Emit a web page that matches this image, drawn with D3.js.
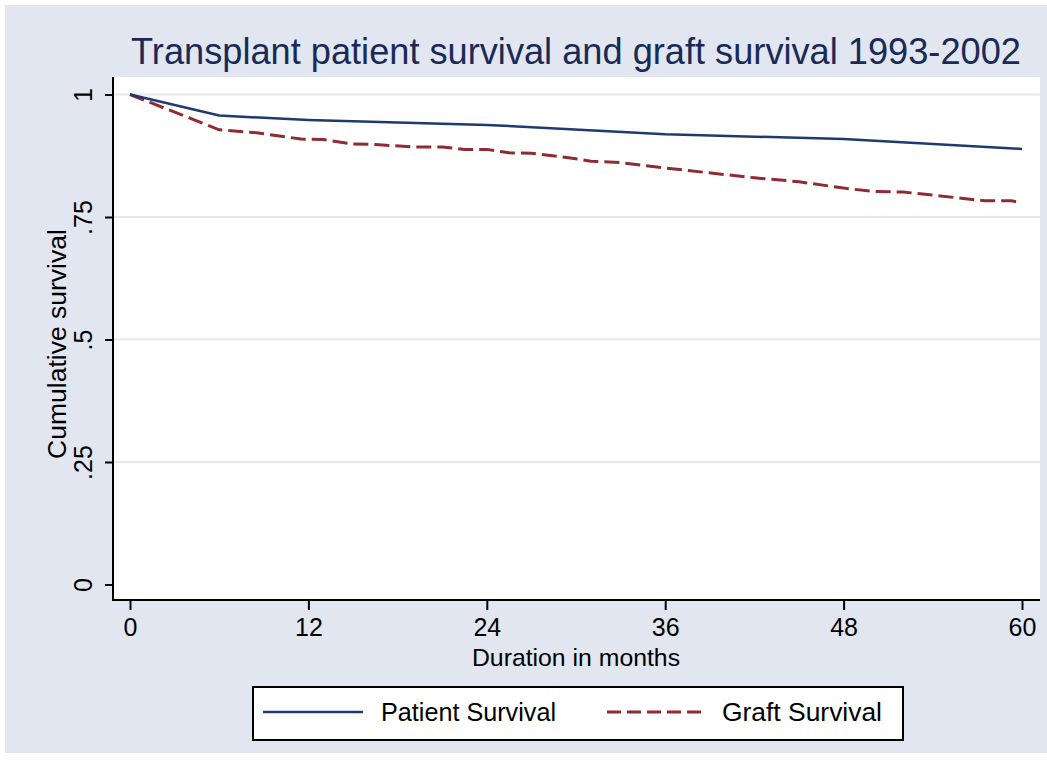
<!DOCTYPE html>
<html>
<head>
<meta charset="utf-8">
<script src="https://cdn.jsdelivr.net/npm/d3@7"></script>
<style>
  body { margin: 0; background: #ffffff; }
  svg { display: block; }
  text { font-family: "Liberation Sans", Arial, sans-serif; }
</style>
</head>
<body>
<svg id="chart" width="1047" height="765"></svg>
<script>
// ---- data ----
const titleText = "Transplant patient survival and graft survival 1993-2002";
const xTicks = [0, 12, 24, 36, 48, 60];
const yTicks = [0, 0.25, 0.5, 0.75, 1];
const yTickLabels = ["0", ".25", ".5", ".75", "1"];
const patientMonths = [0, 6, 12, 24, 36, 48, 60];
const patientSurvival = [1.0, 0.957, 0.948, 0.938, 0.919, 0.909, 0.889];
const graftMonths = [0, 6, 8.5, 11.5, 13, 15, 16.5, 19, 21, 22.5, 24, 25.5, 27, 29.5, 31, 33, 36, 42, 45, 48, 50, 52, 53.3, 57.5, 59.3, 60];
const graftSurvival = [1.0, 0.928, 0.922, 0.909, 0.908, 0.899, 0.898, 0.893, 0.893, 0.888, 0.888, 0.881, 0.880, 0.871, 0.864, 0.861, 0.850, 0.830, 0.822, 0.809, 0.802, 0.801, 0.797, 0.783, 0.783, 0.779];
const seriesNames = ["Patient Survival", "Graft Survival"];
const seriesColors = ["#1f3a6e", "#8e2b33"];

const svg = d3.select("#chart");
const W = 1047, H = 765;
const bg = "#e1e6f0";

// outer region
svg.append("rect").attr("x", 0).attr("y", 0).attr("width", W).attr("height", H).attr("fill", "#ffffff");
svg.append("rect").attr("x", 5).attr("y", 5).attr("width", W - 5).attr("height", 748).attr("fill", bg);

// plot region
const plot = { left: 113, right: 1040, top: 77, bottom: 600 };
svg.append("rect").attr("x", plot.left).attr("y", plot.top)
  .attr("width", plot.right - plot.left).attr("height", plot.bottom - plot.top).attr("fill", "#ffffff");

const x = d3.scaleLinear().domain([0, 60]).range([130, 1022]);
const y = d3.scaleLinear().domain([0, 1]).range([584.5, 94.5]);

// gridlines
svg.append("g").selectAll("line").data(yTicks.filter(d => d > 0)).join("line")
  .attr("x1", plot.left).attr("x2", plot.right)
  .attr("y1", d => y(d)).attr("y2", d => y(d))
  .attr("stroke", "#e3e7f1").attr("stroke-width", 2);

// y axis
const yAxis = d3.axisLeft(y).tickValues(yTicks).tickSize(8).tickPadding(0)
  .tickFormat((d, i) => yTickLabels[i]);
const gy = svg.append("g").attr("transform", `translate(${plot.left},0)`).call(yAxis);
gy.select(".domain").remove();
gy.selectAll(".tick line").attr("stroke", "#000").attr("stroke-width", 2);
gy.selectAll(".tick text")
  .attr("x", 0).attr("y", 0).attr("dy", null)
  .attr("text-anchor", "middle")
  .attr("transform", "translate(-21,0) rotate(-90)")
  .attr("font-size", 25).attr("font-family", "Liberation Sans, Arial, sans-serif").attr("fill", "#000");
svg.append("line").attr("x1", plot.left).attr("x2", plot.left)
  .attr("y1", plot.top).attr("y2", plot.bottom + 1).attr("stroke", "#000").attr("stroke-width", 2);

// x axis
const xAxis = d3.axisBottom(x).tickValues(xTicks).tickSize(10).tickPadding(8).tickFormat(d3.format("d"));
const gx = svg.append("g").attr("transform", `translate(0,${plot.bottom})`).call(xAxis);
gx.select(".domain").remove();
gx.selectAll(".tick line").attr("stroke", "#000").attr("stroke-width", 2);
gx.selectAll(".tick text").attr("font-size", 25).attr("font-family", "Liberation Sans, Arial, sans-serif").attr("fill", "#000");
svg.append("line").attr("x1", plot.left - 1).attr("x2", plot.right)
  .attr("y1", plot.bottom).attr("y2", plot.bottom).attr("stroke", "#000").attr("stroke-width", 2);

// lines
const line = d3.line().x(d => x(d[0])).y(d => y(d[1]));
svg.append("path")
  .datum(graftMonths.map((m, i) => [m, graftSurvival[i]]))
  .attr("d", line).attr("fill", "none")
  .attr("stroke", seriesColors[1]).attr("stroke-width", 3).attr("stroke-dasharray", "15,6");
svg.append("path")
  .datum(patientMonths.map((m, i) => [m, patientSurvival[i]]))
  .attr("d", line).attr("fill", "none")
  .attr("stroke", seriesColors[0]).attr("stroke-width", 2.5);

// title
svg.append("text").attr("x", 576).attr("y", 64).attr("text-anchor", "middle")
  .attr("font-size", 36.2).attr("fill", "#1a2a57")
  .text(titleText);

// axis titles
svg.append("text").attr("x", 576).attr("y", 666).attr("text-anchor", "middle")
  .attr("font-size", 24.8).attr("fill", "#000")
  .text("Duration in months");
svg.append("text").attr("transform", "translate(66,344) rotate(-90)").attr("text-anchor", "middle")
  .attr("font-size", 26.5).attr("fill", "#000")
  .text("Cumulative survival");

// legend
const lg = svg.append("g");
lg.append("rect").attr("x", 253).attr("y", 687).attr("width", 650).attr("height", 53)
  .attr("fill", "#fff").attr("stroke", "#000").attr("stroke-width", 2);
const legendItems = [
  { lx: 263, tx: 381, dash: null, len: 175 },
  { lx: 607, tx: 722, dash: "14,6", len: 160 }
];
legendItems.forEach((it, i) => {
  lg.append("line").attr("x1", it.lx).attr("x2", it.lx + 100).attr("y1", 712).attr("y2", 712)
    .attr("stroke", seriesColors[i]).attr("stroke-width", i === 0 ? 2.5 : 3)
    .attr("stroke-dasharray", it.dash);
  lg.append("text").attr("x", it.tx).attr("y", 721).attr("font-size", 25.5).attr("fill", "#000")
    .attr("textLength", it.len).attr("lengthAdjust", "spacingAndGlyphs")
    .text(seriesNames[i]);
});
</script>
</body>
</html>
